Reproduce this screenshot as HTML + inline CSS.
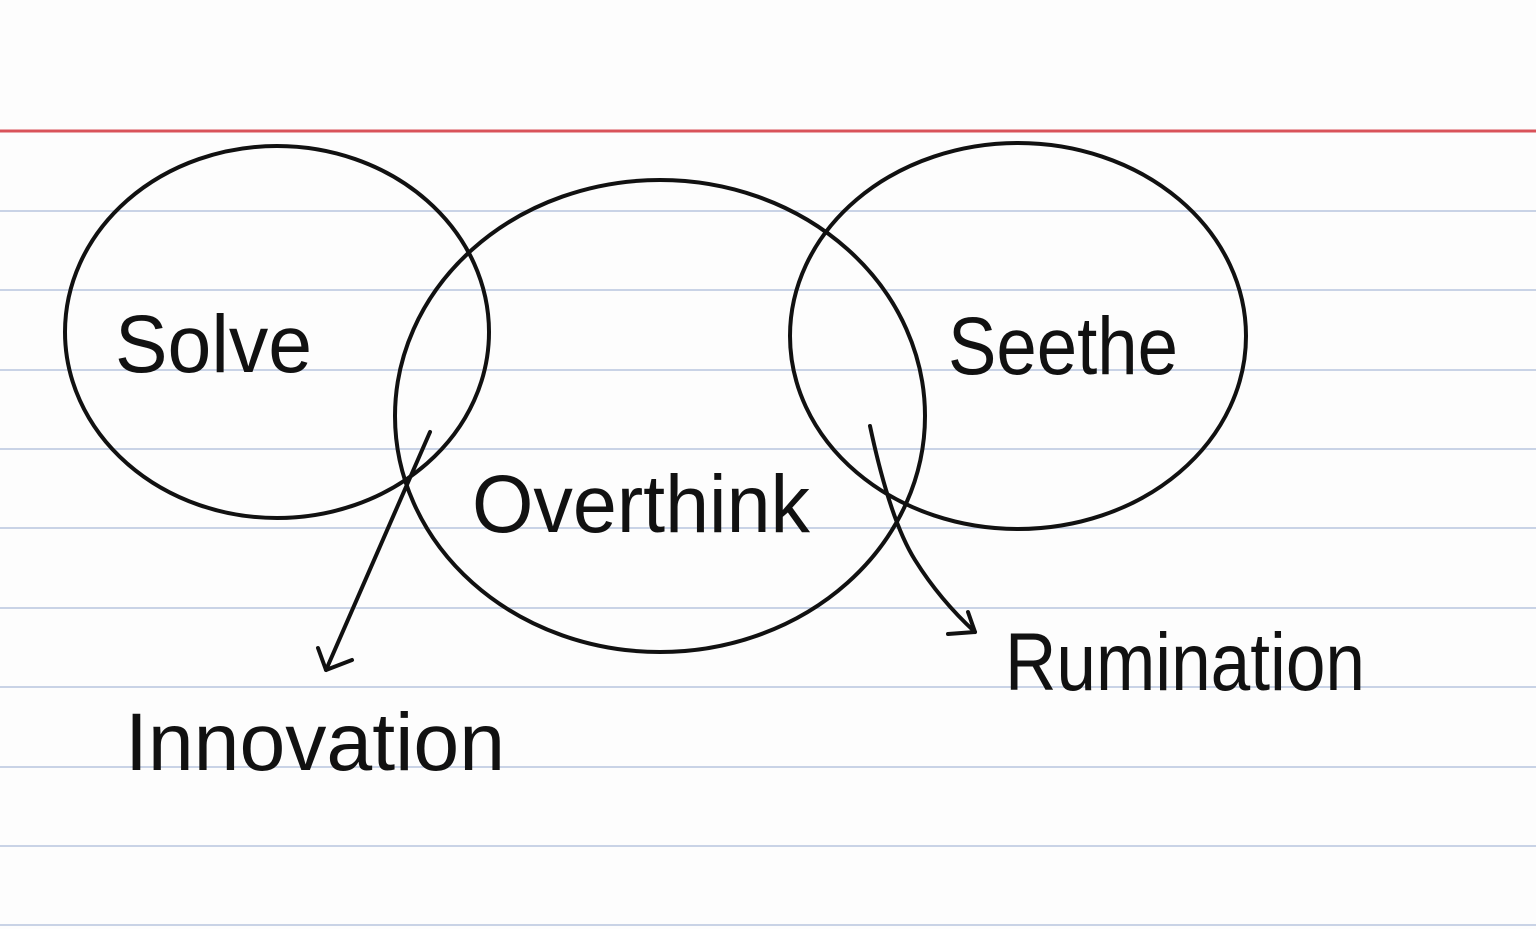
<!DOCTYPE html>
<html><head><meta charset="utf-8"><style>
html,body{margin:0;padding:0;background:#fdfdfd;}
svg{display:block}
text{font-family:"Liberation Sans",sans-serif;fill:#111;}
</style></head><body>
<svg width="1536" height="929" viewBox="0 0 1536 929" xmlns="http://www.w3.org/2000/svg">
<rect width="1536" height="929" fill="#fdfdfd"/>
<g stroke="#c9d3e6" stroke-width="2">
<line x1="0" y1="211" x2="1536" y2="211"/>
<line x1="0" y1="290" x2="1536" y2="290"/>
<line x1="0" y1="370" x2="1536" y2="370"/>
<line x1="0" y1="449" x2="1536" y2="449"/>
<line x1="0" y1="528" x2="1536" y2="528"/>
<line x1="0" y1="608" x2="1536" y2="608"/>
<line x1="0" y1="687" x2="1536" y2="687"/>
<line x1="0" y1="767" x2="1536" y2="767"/>
<line x1="0" y1="846" x2="1536" y2="846"/>
<line x1="0" y1="925" x2="1536" y2="925"/>
</g>
<line x1="0" y1="131" x2="1536" y2="131" stroke="#d9535a" stroke-width="3"/>
<g fill="none" stroke="#111" stroke-width="4" stroke-linecap="round" stroke-linejoin="round">
<ellipse cx="277" cy="332" rx="212" ry="186"/>
<ellipse cx="660" cy="416" rx="265" ry="236"/>
<ellipse cx="1018" cy="336" rx="228" ry="193"/>
<path d="M430 432 L326 670"/>
<path d="M318 648 L326 670 L352 660"/>
<path d="M870 426 Q890 520 915 560 Q940 600 975 632"/>
<path d="M948 634 L975 632 L968 612"/>
</g>
<text x="115" y="372" font-size="82" textLength="197" lengthAdjust="spacingAndGlyphs">Solve</text>
<text x="948" y="374" font-size="82" textLength="230" lengthAdjust="spacingAndGlyphs">Seethe</text>
<text x="472" y="532" font-size="82" textLength="338" lengthAdjust="spacingAndGlyphs">Overthink</text>
<text x="125" y="770" font-size="82" textLength="380" lengthAdjust="spacingAndGlyphs">Innovation</text>
<text x="1005" y="690" font-size="82" textLength="360" lengthAdjust="spacingAndGlyphs">Rumination</text>
</svg>
</body></html>
